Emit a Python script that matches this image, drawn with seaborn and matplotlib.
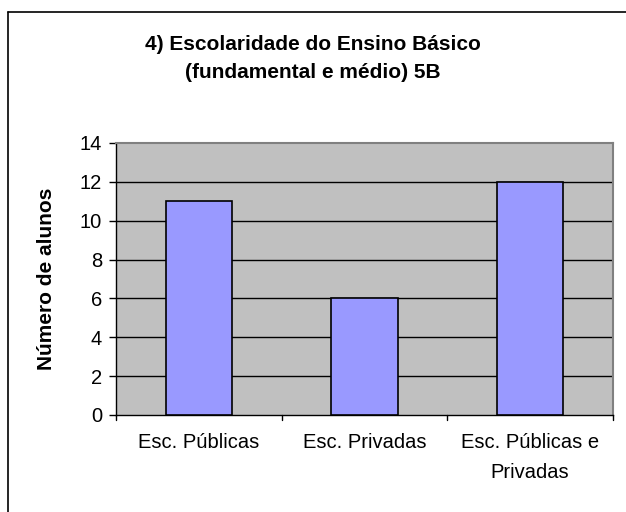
import matplotlib
matplotlib.use("Agg")
import matplotlib.pyplot as plt
import seaborn as sns
import pandas as pd
from matplotlib.lines import Line2D

categories = ["Esc. Públicas", "Esc. Privadas", "Esc. Públicas e\nPrivadas"]
values = [11, 6, 12]
yticks = [0, 2, 4, 6, 8, 10, 12, 14]

sns.set_theme(style="white")
plt.rcParams['font.family'] = ['Liberation Sans', 'DejaVu Sans']
plt.rcParams['text.color'] = 'black'
plt.rcParams['axes.labelcolor'] = 'black'
plt.rcParams['xtick.color'] = 'black'
plt.rcParams['ytick.color'] = 'black'

W, H = 626, 512
fig = plt.figure(figsize=(W / 100, H / 100), dpi=100)
fig.patch.set_facecolor("white")
ax = fig.add_axes([116 / W, 1 - 415 / H, (613 - 116) / W, (415 - 143) / H])

df = pd.DataFrame({"cat": categories, "val": values})
sns.barplot(data=df, x="cat", y="val", color="#9999FF", saturation=1,
            edgecolor="black", linewidth=1.2, width=0.4, ax=ax, zorder=3)

ax.set_facecolor("#C0C0C0")
ax.set_ylim(0, 14)
ax.set_xlim(-0.5, 2.5)
ax.set_yticks(yticks)
ax.set_yticklabels([str(v) for v in yticks], fontsize=14.5)
for v in yticks[1:-1]:
    ax.axhline(v, color="black", linewidth=1.0, zorder=1)

ax.set_xticks([0, 1, 2])
ax.set_xticklabels(categories, fontsize=14.5, linespacing=1.7)
ax.tick_params(axis="x", length=0, pad=13)
ax.tick_params(axis="y", length=5, width=1, direction="out", left=True, pad=5)
# category-boundary ticks on x axis
for xb in [-0.5, 0.5, 1.5, 2.5]:
    ax.plot([xb, xb], [0, -0.25], color="black", linewidth=1, clip_on=False, zorder=5)

for s in ["left", "bottom"]:
    ax.spines[s].set_color("black")
    ax.spines[s].set_linewidth(1)
for s in ["top", "right"]:
    ax.spines[s].set_color("#808080")
    ax.spines[s].set_linewidth(1.5)
    ax.spines[s].set_visible(True)

ax.set_xlabel("")
ax.set_ylabel("Número de alunos", fontsize=15, fontweight="bold", labelpad=17)

fig.text(313 / W, 1 - 45 / H, "4) Escolaridade do Ensino Básico", ha="center", va="center",
         fontsize=15, fontweight="bold")
fig.text(313 / W, 1 - 73 / H, "(fundamental e médio) 5B", ha="center", va="center",
         fontsize=15, fontweight="bold")

# outer border (left and top visible)
fig.add_artist(Line2D([8 / W, 8 / W], [0, 1 - 12 / H], color="black", linewidth=1.2, transform=fig.transFigure))
fig.add_artist(Line2D([8 / W, 1], [1 - 12 / H, 1 - 12 / H], color="black", linewidth=1.2, transform=fig.transFigure))

fig.savefig("out.png", dpi=100)
